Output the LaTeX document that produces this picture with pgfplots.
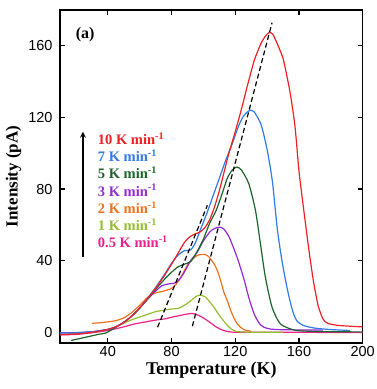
\documentclass[border=0pt]{standalone}
\usepackage{fontspec}
\setmainfont{Liberation Serif}
\newfontfamily\arial{Liberation Sans}
\usepackage{pgfplots}
\pgfplotsset{compat=1.18}
\definecolor{cred}{RGB}{238,32,38}
\definecolor{cblue}{RGB}{48,122,235}
\definecolor{cgreen}{RGB}{28,100,42}
\definecolor{cpurple}{RGB}{148,42,212}
\definecolor{corange}{RGB}{242,112,28}
\definecolor{cyg}{RGB}{148,190,46}
\definecolor{cpink}{RGB}{238,32,138}
\begin{document}
\begin{tikzpicture}
\begin{axis}[
  scale only axis, width=302.7pt, height=333pt,
  xmin=10, xmax=200, ymin=-6, ymax=180,
  xtick={40,80,...,200}, ytick={0,40,...,160},
  tick align=inside, major tick length=5pt,
  axis line style={line width=1.2pt},
  every tick/.style={line width=1.1pt, black},
  /pgf/number format/assume math mode=true,
  tick label style={font=\arial\fontsize{14.5}{16}\selectfont},
  yticklabel style={xshift=-4pt},
  xlabel={Temperature (K)}, ylabel={Intensity (pA)},
  xlabel style={font=\bfseries\fontsize{18}{20}\selectfont, yshift=2pt},
  ylabel style={font=\bfseries\fontsize{17}{19}\selectfont},
  every axis plot/.append style={line width=1.2pt, smooth, tension=0.4},
]
% 0.5 K/min
\addplot[cpink] coordinates {(10,-1.5)(20,-1.2)(30,-0.3)(40,1)(50,3)(56,4.5)(62,5.5)(70,6.8)(76,7.5)(80,8.4)(85,9.3)(90,10.2)(93,10.5)(96,9.8)(100,8)(104,5.6)(108,3)(112,1.2)(116,0.3)(121,0)(150,0)(200,-0.2)};
% 1 K/min
\addplot[cyg] coordinates {(15,-0.8)(30,0)(40,1.5)(45,3)(50,5)(55,7)(60,8.5)(65,10)(70,11.5)(75,12.3)(80,13)(84,13.3)(88,15)(92,17.5)(95,19.8)(98,20.8)(101,19.8)(104,17)(106.6,14)(110,9.5)(113,6)(116,3)(119,1)(122,0.3)(130,0)(150,0)};
% 2 K/min
\addplot[corange] coordinates {(30,5)(35,5.3)(40,5.8)(45,6.5)(50,8)(55,11)(60,15)(65,19.5)(70,22)(75,23)(80,24.5)(83,27)(86,31)(90,37.5)(94,41.5)(97,43.2)(100.4,43.5)(103,42.5)(106.6,38.3)(109,34)(110.8,28.9)(113,22)(115,17.7)(117,12.5)(119,8.4)(121,5)(123.3,2.8)(126,1.3)(130,0.5)};
% 3 K/min
\addplot[cpurple] coordinates {(10,-0.3)(20,-0.2)(30,0.3)(40,1.5)(45,3)(50,5.5)(55,9)(60,13.5)(65,18.5)(70,23)(74,26)(78,27)(82,27.5)(85,29.5)(88,33.5)(92,40)(96,44.5)(100,51)(104,56)(107,58)(110.4,58.7)(113,57.5)(116,53.5)(119,47)(121.5,41)(124,34)(126,28)(128,21)(130,15)(132,10)(134,6.5)(136,4)(138,2.8)(142,1.8)(150,1.4)(175,1.2)};
% 5 K/min
\addplot[cgreen] coordinates {(17,-4.6)(22,-3.6)(28,-2.4)(34,-1.2)(39,-0.3)(45,2.8)(50,5.5)(55,9)(60,13.5)(65,18.5)(70,24)(75,29)(80,33.5)(84,36.5)(88,38)(92,39.5)(96,45)(100,52)(104,61)(108,68)(112,78)(115,86)(118,90.5)(121,92.3)(124,90.5)(128.5,83)(132.7,68)(135.8,49.5)(138.9,30.8)(143.1,14)(148.3,4.7)(156.6,1.3)(165,0.6)(180,0.3)(200,0.2)};
% 7 K/min
\addplot[cblue] coordinates {(10,-0.4)(20,-0.3)(30,0.3)(40,1.6)(45,3)(50,5.5)(55,9)(60,13.5)(65,19)(70,25)(75,31.5)(80,38.5)(84,43)(88,45.5)(92,46)(95,50)(98,57)(102,66)(106,76)(110,86)(114,96)(118,105)(122,115)(125,120.5)(127.5,123)(129.6,124)(132,123)(135.8,117)(138,110)(140,102)(142,92)(143.5,83)(145.2,68)(146.5,57)(148.3,45.7)(150.5,34)(152.5,25)(154.5,17)(156.6,10.3)(159,6)(163,3.7)(170,2.3)(180,1.5)(192,1)};
% 10 K/min
\addplot[cred] coordinates {(10,-1.3)(15,-1.2)(20,-1)(25,-0.6)(30,0)(35,0.7)(40,1.6)(45,3)(50,5.5)(55,9)(60,13.5)(65,19)(70,24.5)(75,31)(80,38)(84,44)(88,50)(91,53)(95,55)(98,56)(101,58.5)(104,63)(107,70)(110,79)(112,86)(116,100)(120,112)(124,125)(128,139)(132,152)(136,161)(139,165.5)(141.5,167.5)(143.5,166.5)(146,162)(148.3,157)(150,153)(152,145)(154.6,133)(157.5,115)(160,90)(162.9,69)(166,47.5)(169,29)(172,15)(175,7.5)(178,5)(185,3.8)(200,3)};
% guide lines
\addplot[black, line width=1.2pt, dash pattern=on 5pt off 3pt, sharp plot] coordinates {(71.25,2.8)(102.5,70.9)};
\addplot[black, line width=1.2pt, dash pattern=on 5pt off 3pt, sharp plot] coordinates {(93.1,3.4)(143.1,172.9)};
% annotations
\node[font=\bfseries\fontsize{16}{18}\selectfont] at (axis cs:25.8,166) {(a)};
\draw[-stealth, line width=1.6pt] (axis cs:24.4,41.8) -- (axis cs:24.4,112);
\begin{scope}[every node/.style={anchor=west, inner sep=0pt, font=\bfseries\fontsize{14.5}{16}\selectfont}]
\node[text=cred]    at (axis cs:33.7,108.2) {10 K min\textsuperscript{-1}};
\node[text=cblue]   at (axis cs:33.7,98.5)  {7 K min\textsuperscript{-1}};
\node[text=cgreen]  at (axis cs:33.7,88.9)  {5 K min\textsuperscript{-1}};
\node[text=cpurple] at (axis cs:33.7,79.3)  {3 K min\textsuperscript{-1}};
\node[text=corange] at (axis cs:33.7,69.7)  {2 K min\textsuperscript{-1}};
\node[text=cyg]     at (axis cs:33.7,60.1)  {1 K min\textsuperscript{-1}};
\node[text=cpink]   at (axis cs:33.7,50.4)  {0.5 K min\textsuperscript{-1}};
\end{scope}
\end{axis}
\path (current axis.south west) ++(-60pt,-46pt) coordinate (BBA);
\path (current axis.north east) ++(14pt,10pt) coordinate (BBB);
\pgfresetboundingbox
\useasboundingbox (BBA) rectangle (BBB);
\end{tikzpicture}
\end{document}
